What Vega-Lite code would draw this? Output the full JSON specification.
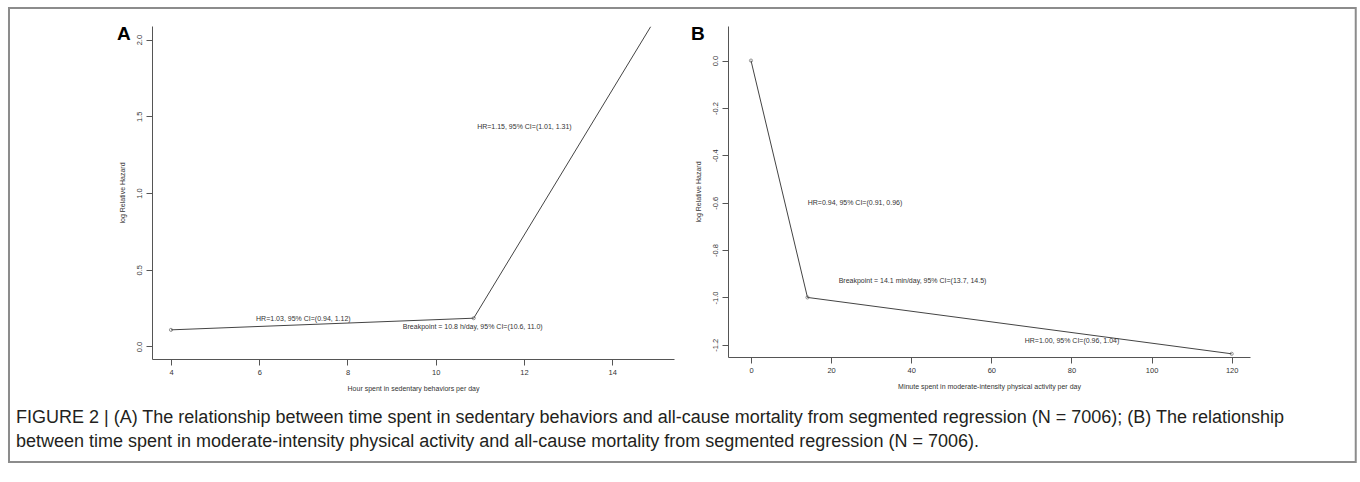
{
  "$schema": "https://vega.github.io/schema/vega-lite/v6.json",
  "background": "white",
  "padding": {"left": 7, "top": 7, "right": 0, "bottom": 0},
  "datasets": {
    "segA": [
      {"hours": 4, "logHR": 0.108},
      {"hours": 10.86, "logHR": 0.184},
      {"hours": 14.87, "logHR": 2.084}
    ],
    "annA": [
      {"hours": 7.0, "logHR": 0.177, "label": "HR=1.03, 95% CI=(0.94, 1.12)"},
      {"hours": 10.84, "logHR": 0.128, "label": "Breakpoint = 10.8 h/day, 95% CI=(10.6, 11.0)"},
      {"hours": 12.01, "logHR": 1.429, "label": "HR=1.15, 95% CI=(1.01, 1.31)"}
    ],
    "segB": [
      {"minutes": 0, "logHR": 0},
      {"minutes": 14.1, "logHR": -1.0},
      {"minutes": 120, "logHR": -1.238}
    ],
    "annB": [
      {"minutes": 25.96, "logHR": -0.6, "label": "HR=0.94, 95% CI=(0.91, 0.96)"},
      {"minutes": 40.32, "logHR": -0.929, "label": "Breakpoint = 14.1 min/day, 95% CI=(13.7, 14.5)"},
      {"minutes": 80.13, "logHR": -1.186, "label": "HR=1.00, 95% CI=(0.96, 1.04)"}
    ],
    "frame": [{"panel": "figure"}]
  },
  "title": {
    "text": [
      "FIGURE 2 | (A) The relationship between time spent in sedentary behaviors and all-cause mortality from segmented regression (N = 7006); (B) The relationship",
      "between time spent in moderate-intensity physical activity and all-cause mortality from segmented regression (N = 7006)."
    ],
    "orient": "bottom",
    "anchor": "start",
    "offset": -54,
    "dx": 8,
    "baseline": "top",
    "font": "Liberation Sans",
    "fontSize": 18,
    "fontWeight": "normal",
    "lineHeight": 24,
    "color": "#231f20"
  },
  "bounds": "flush",
  "spacing": 54,
  "hconcat": [
    {
      "width": 522,
      "height": 333,
      "title": {"text": "A", "anchor": "start", "frame": "group", "orient": "top", "dx": -35, "offset": -46, "baseline": "middle", "fontSize": 19, "fontWeight": "bold", "font": "Liberation Sans", "color": "#000"},
      "layer": [
        {
          "data": {"name": "frame"},
          "mark": {"type": "rect", "filled": false, "stroke": "#8c8c8c", "strokeWidth": 2},
          "encoding": {
            "x": {"datum": 0.329, "type": "quantitative", "scale": {"domain": [3.57, 15.4], "nice": false, "zero": false}},
            "x2": {"datum": 30.85},
            "y": {"datum": 2.206, "type": "quantitative", "scale": {"domain": [-0.082, 2.089], "nice": false, "zero": false}},
            "y2": {"datum": -0.754}
          }
        },
        {
          "data": {"name": "segA"},
          "mark": {"type": "line", "color": "#444", "strokeWidth": 1, "clip": true},
          "encoding": {
            "x": {"field": "hours", "type": "quantitative", "scale": {"domain": [3.57, 15.4], "nice": false, "zero": false},
              "axis": {"title": "Hour spent in sedentary behaviors per day", "values": [4, 6, 8, 10, 12, 14]}},
            "y": {"field": "logHR", "type": "quantitative", "scale": {"domain": [-0.082, 2.089], "nice": false, "zero": false},
              "axis": {"title": "log Relative Hazard", "values": [0, 0.5, 1, 1.5, 2], "format": ".1f"}}
          }
        },
        {
          "data": {"name": "segA"},
          "transform": [{"filter": "datum.hours < 12"}],
          "mark": {"type": "point", "shape": "circle", "filled": false, "size": 10, "strokeWidth": 0.8, "color": "#444"},
          "encoding": {
            "x": {"field": "hours", "type": "quantitative"},
            "y": {"field": "logHR", "type": "quantitative"}
          }
        },
        {
          "data": {"name": "annA"},
          "mark": {"type": "text", "fontSize": 7, "color": "#333", "align": "center", "baseline": "middle"},
          "encoding": {
            "x": {"field": "hours", "type": "quantitative"},
            "y": {"field": "logHR", "type": "quantitative"},
            "text": {"field": "label"}
          }
        }
      ]
    },
    {
      "width": 522,
      "height": 331,
      "title": {"text": "B", "anchor": "start", "frame": "group", "orient": "top", "dx": -37, "offset": -27, "baseline": "middle", "fontSize": 19, "fontWeight": "bold", "font": "Liberation Sans", "color": "#000"},
      "layer": [
        {
          "data": {"name": "segB"},
          "mark": {"type": "line", "color": "#444", "strokeWidth": 1},
          "encoding": {
            "x": {"field": "minutes", "type": "quantitative", "scale": {"domain": [-5.74, 124.57], "nice": false, "zero": false},
              "axis": {"title": "Minute spent in moderate-intensity physical activity per day", "values": [0, 20, 40, 60, 80, 100, 120]}},
            "y": {"field": "logHR", "type": "quantitative", "scale": {"domain": [-1.2515, 0.146], "nice": false, "zero": false},
              "axis": {"title": "log Relative Hazard", "values": [0, -0.2, -0.4, -0.6, -0.8, -1.0, -1.2], "labelExpr": "replace(format(datum.value, '.1f'), '\u2212', '-')"}}
          }
        },
        {
          "data": {"name": "segB"},
          "mark": {"type": "point", "shape": "circle", "filled": false, "size": 10, "strokeWidth": 0.8, "color": "#444"},
          "encoding": {
            "x": {"field": "minutes", "type": "quantitative"},
            "y": {"field": "logHR", "type": "quantitative"}
          }
        },
        {
          "data": {"name": "annB"},
          "mark": {"type": "text", "fontSize": 7, "color": "#333", "align": "center", "baseline": "middle"},
          "encoding": {
            "x": {"field": "minutes", "type": "quantitative"},
            "y": {"field": "logHR", "type": "quantitative"},
            "text": {"field": "label"}
          }
        }
      ]
    }
  ],
  "config": {
    "font": "Liberation Sans",
    "view": {"stroke": null},
    "axis": {
      "grid": false,
      "domainColor": "#555",
      "tickColor": "#555",
      "domainWidth": 1,
      "tickWidth": 1,
      "tickSize": 6,
      "labelFont": "Liberation Sans",
      "labelFontSize": 7.5,
      "labelColor": "#333",
      "titleFont": "Liberation Sans",
      "titleFontSize": 7,
      "titleFontWeight": "normal",
      "titleColor": "#333"
    },
    "axisX": {"labelPadding": 3, "titlePadding": 9, "labelFlush": false, "labelOverlap": false},
    "axisY": {"labelAngle": -90, "labelAlign": "center", "labelBaseline": "bottom", "labelPadding": 3, "titlePadding": 10, "labelFlush": false, "labelOverlap": false}
  }
}
